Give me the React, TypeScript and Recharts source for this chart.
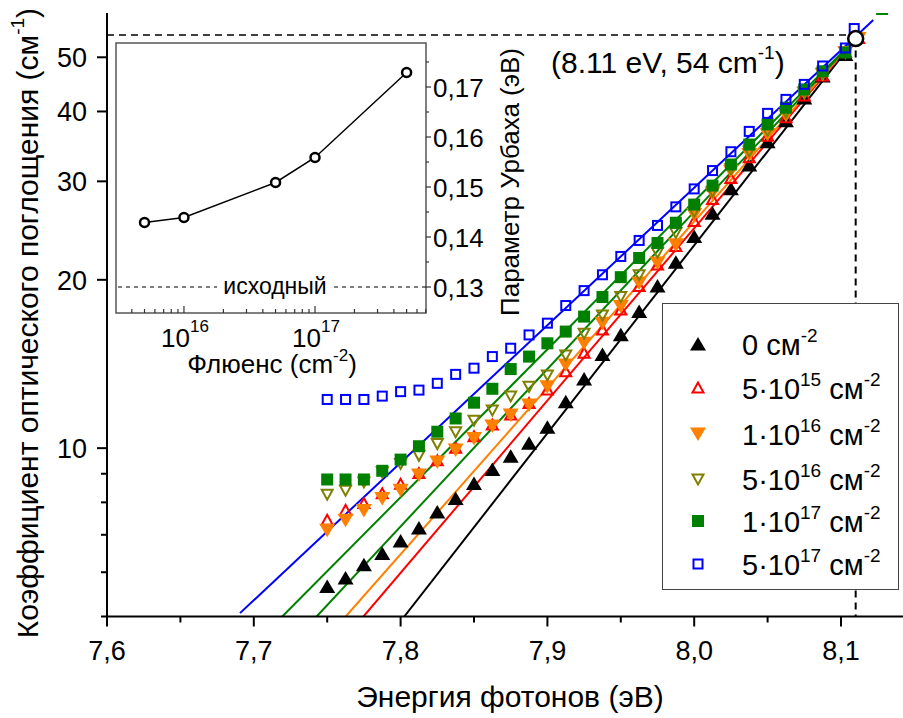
import React from "react";
import {
  ComposedChart,
  LineChart,
  Line,
  Scatter,
  XAxis,
  YAxis,
  ReferenceLine,
  ReferenceDot,
  ReferenceArea,
  Legend,
} from "recharts";

const FONT = '"Liberation Sans", Arial, sans-serif';

// photon energy grid (eV), shared by all six spectra
const energyGrid = [
  7.75, 7.7625, 7.775, 7.7875, 7.8, 7.8125, 7.825, 7.8375, 7.85, 7.8625,
  7.875, 7.8875, 7.9, 7.9125, 7.925, 7.9375, 7.95, 7.9625, 7.975, 7.9875,
  8.0, 8.0125, 8.025, 8.0375, 8.05, 8.0625, 8.075, 8.0875,
];

// absorption coefficient (cm^-1) per fluence
const alpha0 = [
  5.66, 5.86, 6.19, 6.48, 6.82, 7.2, 7.69, 8.13, 8.65, 9.16, 9.67, 10.2, 10.9,
  12.1, 13.3, 14.7, 15.95, 17.55, 19.5, 21.5, 23.9, 26.3, 29.1, 32.1, 35.3,
  38.5, 42.3, 46.3,
];
const alpha5e15 = [
  7.43, 7.74, 7.96, 8.29, 8.62, 9.01, 9.49, 10.0, 10.48, 11.0, 11.46, 12.02,
  12.7, 13.7, 14.78, 16.27, 17.67, 19.45, 21.25, 22.95, 25.44, 27.83, 30.34,
  33.05, 36.13, 38.98, 42.62, 46.3,
];
const alpha1e16 = [
  7.13, 7.43, 7.74, 8.13, 8.41, 8.95, 9.45, 9.92, 10.41, 10.95, 11.46, 11.94,
  12.88, 14.08, 15.4, 16.73, 17.91, 19.73, 21.43, 23.1, 26.16, 28.6, 31.27,
  33.5, 36.38, 39.36, 43.1, 46.6,
];
const alpha5e16 = [
  8.27, 8.41, 8.7, 9.07, 9.39, 9.71, 10.19, 10.7, 11.22, 11.7, 12.4, 12.9,
  13.52, 14.68, 16.05, 17.31, 18.67, 20.42, 22.4, 24.3, 26.5, 28.8, 31.6, 34.0,
  37.0, 39.9, 43.4, 46.9,
];
const alpha1e17 = [
  8.79, 8.79, 8.79, 9.11, 9.54, 10.08, 10.7, 11.3, 12.06, 12.77, 13.85, 14.58,
  15.4, 16.16, 17.19, 18.63, 20.22, 21.88, 23.27, 25.3, 27.26, 29.48, 32.15,
  34.91, 37.93, 40.62, 43.8, 47.2,
];
const alpha5e17 = [
  12.22, 12.22, 12.22, 12.39, 12.62, 12.7, 13.06, 13.55, 13.9, 14.58, 15.09,
  15.94, 16.73, 17.99, 19.13, 20.42, 22.02, 23.52, 25.02, 27.01, 29.08, 31.36,
  33.89, 36.85, 39.69, 42.04, 44.72, 48.24,
];

// last points near the 8.11 eV crossing
const tailE0 = [8.103];
const tailA0 = [50.6];
const tailE5e15 = [8.103, 8.112];
const tailA5e15 = [51, 54];
const tailE1e16 = [8.103, 8.112];
const tailA1e16 = [51, 54];
const tailE5e16 = [8.103];
const tailA5e16 = [51];
const tailE1e17 = [8.103, 8.128];
const tailA1e17 = [51, 61];
const tailE5e17 = [8.103, 8.109];
const tailA5e17 = [51.95, 56.28];

// Urbach fit lines: [start E, start alpha, end E, end alpha]
const fit0 = [7.8025, 5, 8.11, 54];
const fit5e15 = [7.7747, 5, 8.11, 54];
const fit1e16 = [7.7626, 5, 8.11, 54];
const fit5e16 = [7.7428, 5, 8.11, 54];
const fit1e17 = [7.7194, 5, 8.11, 54];
const fit5e17 = [7.6906, 5.07, 8.122, 58.3];

const xTicks = [7.6, 7.65, 7.7, 7.75, 7.8, 7.85, 7.9, 7.95, 8.0, 8.05, 8.1, 8.15];
const yTicks = [5, 6, 7, 8, 9, 10, 20, 30, 40, 50];
const yLabeled = [10, 20, 30, 40, 50];

// inset: Urbach parameter vs fluence
const fluence = [5e15, 1e16, 5e16, 1e17, 5e17];
const urbach = [0.1429, 0.1439, 0.1509, 0.1559, 0.1729];
const insetXTicks = [
  4e15, 5e15, 6e15, 7e15, 8e15, 9e15, 1e16, 2e16, 3e16, 4e16, 5e16, 6e16, 7e16,
  8e16, 9e16, 1e17, 2e17, 3e17, 4e17, 5e17, 6e17, 7e17,
];
const insetYTicks = [0.13, 0.135, 0.14, 0.145, 0.15, 0.155, 0.16, 0.165, 0.17, 0.175];

const zip = (es: number[], as: number[]) => es.map((e, i) => ({ e, a: as[i] }));
const pts = (vals: number[], te: number[], ta: number[]) => [
  ...zip(energyGrid, vals),
  ...zip(te, ta),
];
const seg = (f: number[]) => [
  { e: f[0], a: f[1] },
  { e: f[2], a: f[3] },
];

type Kind = "triUp" | "triUpOpen" | "triDown" | "triDownOpen" | "square" | "squareOpen";

const series = [
  { key: "0", kind: "triUp" as Kind, color: "#000000", line: "#000000", data: pts(alpha0, tailE0, tailA0), fit: seg(fit0), exp: "", pre: "0" },
  { key: "5e15", kind: "triUpOpen" as Kind, color: "#ff0000", line: "#ff0000", data: pts(alpha5e15, tailE5e15, tailA5e15), fit: seg(fit5e15), exp: "15", pre: "5·10" },
  { key: "1e16", kind: "triDown" as Kind, color: "#ff8000", line: "#ff8000", data: pts(alpha1e16, tailE1e16, tailA1e16), fit: seg(fit1e16), exp: "16", pre: "1·10" },
  { key: "5e16", kind: "triDownOpen" as Kind, color: "#808000", line: "#008000", data: pts(alpha5e16, tailE5e16, tailA5e16), fit: seg(fit5e16), exp: "16", pre: "5·10" },
  { key: "1e17", kind: "square" as Kind, color: "#008000", line: "#008000", data: pts(alpha1e17, tailE1e17, tailA1e17), fit: seg(fit1e17), exp: "17", pre: "1·10" },
  { key: "5e17", kind: "squareOpen" as Kind, color: "#0000ff", line: "#0000ff", data: pts(alpha5e17, tailE5e17, tailA5e17), fit: seg(fit5e17), exp: "17", pre: "5·10" },
];

function Marker({ kind, cx, cy, color }: { kind: Kind; cx: number; cy: number; color: string }) {
  if (cx == null || cy == null) return null;
  switch (kind) {
    case "triUp":
      return <polygon points={`${cx},${cy - 7} ${cx - 8},${cy + 6.5} ${cx + 8},${cy + 6.5}`} fill={color} />;
    case "triUpOpen":
      return <polygon points={`${cx},${cy - 5.5} ${cx - 5.5},${cy + 4.5} ${cx + 5.5},${cy + 4.5}`} fill="none" stroke={color} strokeWidth={2} />;
    case "triDown":
      return <polygon points={`${cx - 8},${cy - 6.5} ${cx + 8},${cy - 6.5} ${cx},${cy + 7}`} fill={color} />;
    case "triDownOpen":
      return <polygon points={`${cx - 5.5},${cy - 4.5} ${cx + 5.5},${cy - 4.5} ${cx},${cy + 5.5}`} fill="none" stroke={color} strokeWidth={2} />;
    case "square":
      return <rect x={cx - 6} y={cy - 6} width={12} height={12} fill={color} />;
    default:
      return <rect x={cx - 4.5} y={cy - 4.5} width={9} height={9} fill="none" stroke={color} strokeWidth={2} />;
  }
}

function MainXTick(props: any) {
  const { x, y, payload } = props;
  const v = payload.value;
  const major = Math.abs(v * 10 - Math.round(v * 10)) < 1e-6;
  return (
    <g>
      <line x1={x} x2={x} y1={y} y2={y + (major ? 10 : 6)} stroke="#000" strokeWidth={2} />
      {major && (
        <text x={x} y={y + 43.5} textAnchor="middle" fontSize={27} fontFamily={FONT} fill="#000">
          {v.toFixed(1).replace(".", ",")}
        </text>
      )}
    </g>
  );
}

function TopXTick(props: any) {
  const { x, y } = props;
  return <line x1={x} x2={x} y1={y} y2={y + 5} stroke="#000" strokeWidth={1.5} />;
}

function MainYTick(props: any) {
  const { x, y, payload } = props;
  const v = payload.value;
  const major = yLabeled.includes(v);
  return (
    <g>
      <line x1={x - (major ? 10 : 6)} x2={x} y1={y} y2={y} stroke="#000" strokeWidth={2} />
      {major && (
        <text x={x - 20} y={y + 10} textAnchor="end" fontSize={27} fontFamily={FONT} fill="#000">
          {v}
        </text>
      )}
    </g>
  );
}

function InsetXTick(props: any) {
  const { x, y, payload } = props;
  const v = payload.value;
  const p = Math.log10(v);
  const major = Math.abs(p - Math.round(p)) < 1e-6;
  return (
    <g>
      <line x1={x} x2={x} y1={y} y2={y - (major ? 7 : 4)} stroke="#333" strokeWidth={1.2} />
      {major && (
        <text x={x + 1} y={y + 34} textAnchor="middle" fontSize={26} fontFamily={FONT} fill="#000">
          10
          <tspan dy={-15} fontSize={17}>
            {Math.round(p)}
          </tspan>
        </text>
      )}
    </g>
  );
}

function InsetYTickRight(props: any) {
  const { x, y, payload } = props;
  const v = payload.value;
  const major = Math.abs(v * 100 - Math.round(v * 100)) < 1e-6;
  return (
    <g>
      <line x1={x} x2={x + (major ? 5 : 3)} y1={y} y2={y} stroke="#333" strokeWidth={1.2} />
      {major && (
        <text x={x + 7} y={y + 9.5} textAnchor="start" fontSize={26} fontFamily={FONT} fill="#000">
          {v.toFixed(2).replace(".", ",")}
        </text>
      )}
    </g>
  );
}

function InsetYTickLeft(props: any) {
  const { x, y, payload } = props;
  const v = payload.value;
  const major = Math.abs(v * 100 - Math.round(v * 100)) < 1e-6;
  return <line x1={x} x2={x + (major ? 5 : 3)} y1={y} y2={y} stroke="#333" strokeWidth={1.2} />;
}

function BaselineLabel(props: any) {
  const { viewBox } = props;
  const cx = viewBox.x + viewBox.width / 2 + 4;
  const cy = viewBox.y;
  return (
    <g>
      <rect x={cx - 58} y={cy - 12} width={116} height={22} fill="#fff" />
      <text x={cx} y={cy + 7} textAnchor="middle" fontSize={23} fontFamily={FONT} fill="#000">
        исходный
      </text>
    </g>
  );
}

function LegendBox() {
  const rows = [40, 84, 130, 175, 217, 260];
  return (
    <div
      style={{
        width: 237,
        height: 287,
        border: "1.5px solid #444",
        background: "#fff",
        position: "relative",
        boxSizing: "border-box",
        fontFamily: FONT,
        color: "#000",
      }}
    >
      {series.map((s, i) => (
        <div key={s.key} style={{ position: "absolute", left: 0, top: rows[i] - 20, height: 40, width: 237 }}>
          <svg width={30} height={30} style={{ position: "absolute", left: 20, top: 5 }}>
            <Marker kind={s.kind} cx={15} cy={15} color={s.color} />
          </svg>
          <div style={{ position: "absolute", left: 79, top: 4, fontSize: 29, lineHeight: "34px", whiteSpace: "nowrap" }}>
            {s.pre}
            {s.exp && <span style={{ fontSize: 19, position: "relative", top: -13 }}>{s.exp}</span>}
            {" см"}
            <span style={{ fontSize: 19, position: "relative", top: -13 }}>-2</span>
          </div>
        </div>
      ))}
    </div>
  );
}

export default function App() {
  const insetData = fluence.map((f, i) => ({ f, u: urbach[i] }));
  return (
    <div style={{ position: "absolute", left: 0, top: 0, width: 903, height: 718, overflow: "hidden", background: "#fff" }}>
      <div style={{ position: "absolute", left: 0, top: 0 }}>
        <ComposedChart width={920} height={718} margin={{ top: 13, right: 5.6, bottom: 0, left: 0 }}>
          <XAxis
            dataKey="e"
            type="number"
            domain={[7.6, 8.15]}
            allowDataOverflow
            ticks={xTicks}
            interval={0}
            tickSize={0}
            tickMargin={0}
            tick={<MainXTick />}
            axisLine={{ stroke: "#000", strokeWidth: 2 }}
            height={101.5}
          />
          <XAxis
            xAxisId="top"
            orientation="top"
            dataKey="e"
            type="number"
            domain={[7.6, 8.15]}
            allowDataOverflow
            ticks={xTicks}
            interval={0}
            tickSize={0}
            tickMargin={0}
            tick={<TopXTick />}
            axisLine={{ stroke: "#000", strokeWidth: 2 }}
            height={0}
          />
          <YAxis
            dataKey="a"
            type="number"
            scale="log"
            domain={[5, 60]}
            allowDataOverflow
            ticks={yTicks}
            interval={0}
            tickSize={0}
            tickMargin={0}
            tick={<MainYTick />}
            axisLine={{ stroke: "#000", strokeWidth: 2 }}
            width={107}
          />

          <ReferenceLine
            segment={[{ x: 7.6, y: 54.8 }, { x: 8.11, y: 54.8 }]}
            stroke="#000"
            strokeWidth={1.5}
            strokeDasharray="7 5"
          />
          <ReferenceLine
            segment={[{ x: 8.11, y: 54 }, { x: 8.11, y: 5 }]}
            stroke="#000"
            strokeWidth={2}
            strokeDasharray="7 5"
          />

          {series.map((s) => (
            <Line
              key={"fit" + s.key}
              data={s.fit}
              dataKey="a"
              type="linear"
              stroke={s.line}
              strokeWidth={2}
              dot={false}
              activeDot={false}
              isAnimationActive={false}
            />
          ))}
          {series.map((s) => (
            <Scatter
              key={"pts" + s.key}
              data={s.data}
              dataKey="a"
              isAnimationActive={false}
              shape={(p: any) => <Marker kind={s.kind} cx={p.cx} cy={p.cy} color={s.color} />}
            />
          ))}

          <ReferenceDot x={8.11} y={54} r={7.5} fill="#fff" stroke="#000" strokeWidth={2.5} />

          <Legend
            layout="vertical"
            align="center"
            verticalAlign="middle"
            wrapperStyle={{ left: 662, top: 303, width: 237, height: 287 }}
            content={() => <LegendBox />}
          />

          <text x={551} y={73} fontSize={30} fontFamily={FONT} fill="#000">
            (8.11 eV, 54 cm
            <tspan dy={-14} fontSize={19}>
              -1
            </tspan>
            <tspan dy={14}>)</tspan>
          </text>
          <text x={510} y={707} textAnchor="middle" fontSize={30} fontFamily={FONT} fill="#000">
            Энергия фотонов (эВ)
          </text>
          <text
            transform="translate(38,323) rotate(-90)"
            textAnchor="middle"
            fontSize={30}
            fontFamily={FONT}
            fill="#000"
          >
            Коэффициент оптического поглощения (см
            <tspan dy={-14} fontSize={19}>
              -1
            </tspan>
            <tspan dy={14}>)</tspan>
          </text>
        </ComposedChart>
      </div>

      <div style={{ position: "absolute", left: 100, top: 30 }}>
        <LineChart width={440} height={365} data={insetData} margin={{ top: 13, right: 20, bottom: 42, left: 16 }}>
          <XAxis
            dataKey="f"
            type="number"
            scale="log"
            domain={[3.03e15, 7.03e17]}
            allowDataOverflow
            ticks={insetXTicks}
            interval={0}
            tickSize={0}
            tickMargin={0}
            tick={<InsetXTick />}
            axisLine={false}
            height={40}
          />
          <YAxis
            yAxisId="r"
            orientation="right"
            dataKey="u"
            type="number"
            domain={[0.1248, 0.1788]}
            allowDataOverflow
            ticks={insetYTicks}
            interval={0}
            tickSize={0}
            tickMargin={0}
            tick={<InsetYTickRight />}
            axisLine={false}
            width={94}
          />
          <YAxis
            yAxisId="l"
            orientation="left"
            type="number"
            domain={[0.1248, 0.1788]}
            allowDataOverflow
            ticks={insetYTicks}
            interval={0}
            tickSize={0}
            tickMargin={0}
            tick={<InsetYTickLeft />}
            axisLine={false}
            width={0}
          />
          <ReferenceArea
            yAxisId="r"
            x1={3.03e15}
            x2={7.03e17}
            y1={0.1248}
            y2={0.1788}
            fill="none"
            fillOpacity={0}
            stroke="#555"
            strokeWidth={1.5}
          />
          <ReferenceLine
            yAxisId="r"
            y={0.13}
            stroke="#000"
            strokeWidth={1}
            strokeDasharray="4 4"
            label={<BaselineLabel />}
          />
          <Line
            yAxisId="r"
            dataKey="u"
            type="linear"
            stroke="#000"
            strokeWidth={1.5}
            dot={{ r: 4.5, stroke: "#000", strokeWidth: 2.5, fill: "#fff" }}
            activeDot={false}
            isAnimationActive={false}
          />
          <text x={172} y={343} textAnchor="middle" fontSize={26} fontFamily={FONT} fill="#000">
            Флюенс (cm
            <tspan dy={-12} fontSize={17}>
              -2
            </tspan>
            <tspan dy={12}>)</tspan>
          </text>
          <text
            transform="translate(419,152) rotate(-90)"
            textAnchor="middle"
            fontSize={26}
            fontFamily={FONT}
            fill="#000"
          >
            Параметр Урбаха (эВ)
          </text>
        </LineChart>
      </div>
    </div>
  );
}
